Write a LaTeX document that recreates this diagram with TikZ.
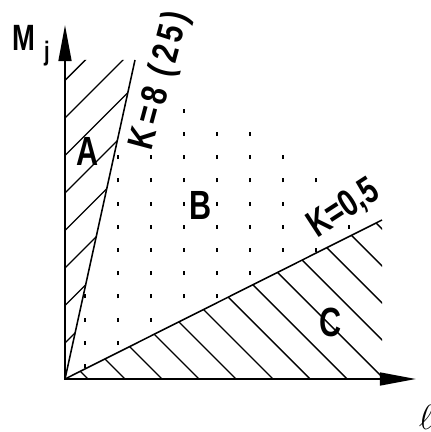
\documentclass[tikz,border=0pt]{standalone}
\usepackage{fontspec}
\setmainfont{Liberation Sans}
\newfontfamily\drawfont{Liberation Sans}[FakeStretch=0.75]
\newfontfamily\kfont{Liberation Sans}[FakeStretch=0.8,LetterSpace=12]
\usepackage{tikz}
\usetikzlibrary{
  arrows.meta,
  positioning,
  calc
}

\begin{document}
\begin{tikzpicture}[x=0.025cm,y=0.025cm,
  axis/.style={line width=1.5pt,
    {Triangle[length=0.9cm,width=0.32cm]}-{Triangle[length=0.9cm,width=0.32cm]}},
  kline/.style={line width=1.1pt},
  hatch/.style={line width=1pt},
  dotmark/.style={line width=1.1pt},
  lbl/.style={inner sep=0pt,font=\drawfont\bfseries\fontsize{29pt}{30pt}\selectfont},
  klbl/.style={inner sep=0pt,font=\kfont\bfseries\fontsize{26pt}{28pt}\selectfont}]
  \useasboundingbox (-65,-53) rectangle (366,379);
  % Corner points
  \coordinate (O) at (0,0);
  \coordinate (Khi) at (70,319);
  \coordinate (Klo) at (317,159);
  \coordinate (Ytop) at (0,354);
  \coordinate (Xend) at (351,0);
  % Hatching of A
  \begin{scope}
    \clip (O) -- (Khi) -- (0,319) -- cycle;
    \foreach \y in {36,73.5,...,300}
      \draw[hatch] (0,\y) -- ++(320,320);
  \end{scope}
  % Hatching of C
  \begin{scope}
    \clip (O) -- (Klo) -- (317,0) -- cycle;
    \foreach \c in {23,60,...,470}
      \draw[hatch] (\c,0) -- ++(-400,400);
  \end{scope}
  % Dots of B (row/first/last column)
  \foreach \j/\a/\b in {0/0/0,1/0/1,2/0/2,3/0/4,4/1/5,5/1/7,
                        6/1/6,7/1/6,8/1/7,9/1/6,10/3/5,11/3/3}
    \foreach \i in {\a,...,\b}
      \draw[dotmark] ({20+33*\i},{11+23.2*\j}) -- ++(0,4);
  \draw[dotmark] (284,150.2) -- ++(0,4);
  % Lines K
  \draw[kline] (O) -- (Khi);
  \draw[kline] (O) -- (Klo);
  % Axes
  \draw[axis] (Ytop) -- (O) -- (Xend);
  % Labels
  \node[lbl,font=\drawfont\bfseries\fontsize{26pt}{28pt}\selectfont] (lblM) at (-41,341) {M};
  \node[inner sep=0pt,font=\drawfont\bfseries\fontsize{19pt}{21pt}\selectfont] (lblj) at (-18,325) {j};
  \node[lbl] (lblA) at (23,228) {A};
  \node[lbl] (lblB) at (136,174) {B};
  \node[lbl] (lblC) at (266,57) {C};
  \node[klbl,rotate=75] (lblKhi) at (96,298) {K=8 (25)};
  \node[lbl,rotate=33,font=\drawfont\bfseries\fontsize{27pt}{29pt}\selectfont] (lblKlo) at (279,170) {K=0,5};
  \node[inner sep=0pt,font=\fontsize{30pt}{32pt}\selectfont] (lblL) at (361,-38) {$\ell$};
\end{tikzpicture}
\end{document}
